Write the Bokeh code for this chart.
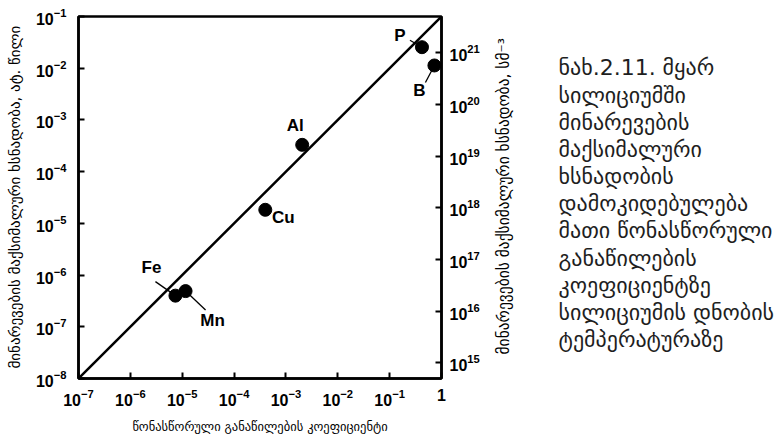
import numpy as np
from bokeh.plotting import figure
from bokeh.layouts import row
from bokeh.models import LogAxis, LogScale, Range1d, FixedTicker, ColumnDataSource
from bokeh.embed import file_html
from bokeh.resources import INLINE
from bokeh.core.properties import value

# impurity data: equilibrium distribution coefficient vs. maximum solubility
elements = ["Fe", "Mn", "Cu", "Al", "P", "B"]
dist_coeff = [7.4e-6, 1.16e-5, 4.0e-4, 2.06e-3, 0.42, 0.73]
solubility = [4.0e-7, 4.9e-7, 1.83e-5, 3.3e-4, 2.55e-2, 1.13e-2]

# reference line  C_max = 0.1 * k0
line_k = [1e-7, 1.0]
line_c = [1e-8, 1e-1]

x_ticks = [1e-7, 1e-6, 1e-5, 1e-4, 1e-3, 1e-2, 1e-1, 1.0]
y_ticks = [1e-8, 1e-7, 1e-6, 1e-5, 1e-4, 1e-3, 1e-2, 1e-1]
cm_ticks = [1e15, 1e16, 1e17, 1e18, 1e19, 1e20, 1e21]
si_atoms_cm3 = 5e22  # atomic density of silicon

x_title = "წონასწორული განაწილების კოეფიციენტი"
y_title_left = "მინარევების მაქსიმალური ხსნადობა, ატ. წილი"
y_title_right = "მინარევების მაქსიმალური ხსნადობა, სმ⁻³"

caption = [
    "ნახ.2.11. მყარ",
    "სილიციუმში",
    "მინარევების",
    "მაქსიმალური",
    "ხსნადობის",
    "დამოკიდებულება",
    "მათი წონასწორული",
    "განაწილების",
    "კოეფიციენტზე",
    "სილიციუმის დნობის",
    "ტემპერატურაზე",
]

# label placement around each marker (pixels, x right / y down)
lab_dx = [-24, 27, 18, -7, -22, -15]
lab_dy = [-28, 29, 8, -19, -12, 25]
# leader line start relative to marker (None = no leader)
lead_dx = [-20, 20, None, None, -12, -9]
lead_dy = [-14, 19, None, None, -7, 17]

H = 437
W_LEFT_STRIP = 24
W_PLOT = 469
W_CAP = 783 - W_LEFT_STRIP - W_PLOT
B_LEFT, B_RIGHT, B_TOP, B_BOTTOM = 54, 52, 16, 59
frame_w = W_PLOT - B_LEFT - B_RIGHT
frame_h = H - B_TOP - B_BOTTOM
px_per_dec_x = frame_w / 7.0
px_per_dec_y = frame_h / 7.0


def text_panel(width):
    f = figure(
        width=width, height=H,
        x_range=Range1d(0, width), y_range=Range1d(H, 0),
        output_backend="svg", toolbar_location=None,
        min_border=0, outline_line_color=None,
    )
    f.axis.visible = False
    f.grid.visible = False
    return f


# ---- main chart ----
p = figure(
    width=W_PLOT, height=H,
    x_axis_type="log", y_axis_type="log",
    x_range=Range1d(1e-7, 1.0), y_range=Range1d(1e-8, 1e-1),
    output_backend="svg", toolbar_location=None,
    min_border_left=B_LEFT, min_border_right=B_RIGHT,
    min_border_top=B_TOP, min_border_bottom=B_BOTTOM,
)
p.xgrid.visible = False
p.ygrid.visible = False
p.outline_line_color = "black"
p.outline_line_width = 2.5

p.extra_y_ranges = {"cm": Range1d(1e-8 * si_atoms_cm3, 1e-1 * si_atoms_cm3)}
p.extra_y_scales = {"cm": LogScale()}
right_ax = LogAxis(y_range_name="cm", ticker=FixedTicker(ticks=cm_ticks))
p.add_layout(right_ax, "right")

p.xaxis.ticker = FixedTicker(ticks=x_ticks)
p.yaxis[0].ticker = FixedTicker(ticks=y_ticks)
p.xaxis.major_label_overrides = {1.0: "1"}

for ax in [p.xaxis[0], p.yaxis[0], right_ax]:
    ax.axis_line_width = 2.5
    ax.major_tick_in = 6
    ax.major_tick_out = 0
    ax.major_tick_line_width = 2
    ax.minor_tick_line_color = None
    ax.major_label_text_font = "Liberation Sans"
    ax.major_label_text_font_style = "bold"
    ax.major_label_text_font_size = "16px"
    ax.major_label_text_color = "black"

p.xaxis.major_label_standoff = 10
p.yaxis[0].major_label_standoff = 12
right_ax.major_label_standoff = 8

p.xaxis.axis_label = x_title
p.xaxis.axis_label_text_font = "DejaVu Sans"
p.xaxis.axis_label_text_font_style = "normal"
p.xaxis.axis_label_text_font_size = "12.5px"
p.xaxis.axis_label_text_color = "black"
p.xaxis.axis_label_standoff = 10

# reference line
p.line(line_k, line_c, line_color="black", line_width=2.5)

# leader lines, converted from pixel offsets to log-space data positions
lx0, ly0, lx1, ly1 = [], [], [], []
for k, c, dx, dy in zip(dist_coeff, solubility, lead_dx, lead_dy):
    if dx is None:
        continue
    lx0.append(k * 10 ** (dx / px_per_dec_x))
    ly0.append(c * 10 ** (-dy / px_per_dec_y))
    lx1.append(k)
    ly1.append(c)
p.segment(lx0, ly0, lx1, ly1, line_color="black", line_width=1.3)

src = ColumnDataSource(dict(k=dist_coeff, c=solubility, name=elements,
                            dx=lab_dx, dy=lab_dy))
p.scatter("k", "c", source=src, size=13, fill_color="black", line_color="black")
p.text("k", "c", text="name", source=src, x_offset="dx", y_offset="dy",
       text_align="center", text_baseline="middle",
       text_font=value("Liberation Sans"), text_font_style="bold",
       text_font_size="17px", text_color="black")

# ---- left axis title (rotated, reads bottom to top) ----
left_strip = text_panel(W_LEFT_STRIP)
left_strip.text([14], [218], text=[y_title_left], angle=np.pi / 2,
                text_align="center", text_baseline="middle",
                text_font=value("DejaVu Sans"), text_font_size="15px",
                text_color="black")

# ---- right axis title and figure caption ----
cap = text_panel(W_CAP)
cap.text([10], [217], text=[y_title_right], angle=np.pi / 2,
         text_align="center", text_baseline="middle",
         text_font=value("DejaVu Sans"), text_font_size="15.5px",
         text_color="black")
cap_x = [65] * len(caption)
cap_y = [62 + i * 32.8 for i in range(len(caption))]
cap.text(cap_x, cap_y, text=caption,
         text_align="left", text_baseline="middle",
         text_font=value("DejaVu Sans"), text_font_size="22px",
         text_color="#1e1e1e")

layout = row(left_strip, p, cap, spacing=0)
open("out.html", "w").write(file_html(layout, INLINE))
